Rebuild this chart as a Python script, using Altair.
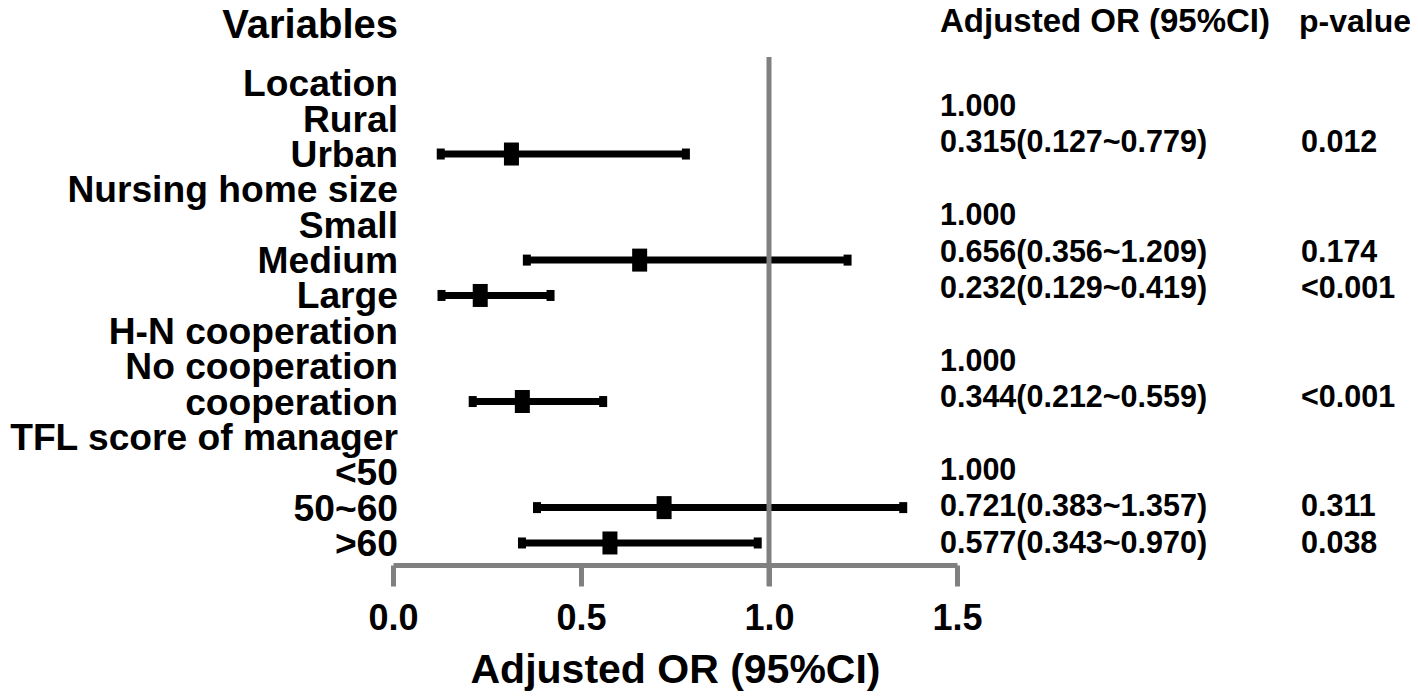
import altair as alt
import pandas as pd

# ---------------- data ----------------
row_labels = ["Location", "Rural", "Urban", "Nursing home size", "Small", "Medium",
              "Large", "H-N cooperation", "No cooperation", "cooperation",
              "TFL score of manager", "<50", "50~60", ">60"]

est_rows = [2, 5, 6, 9, 12, 13]
est_or = [0.315, 0.656, 0.232, 0.344, 0.721, 0.577]
est_lo = [0.127, 0.356, 0.129, 0.212, 0.383, 0.343]
est_hi = [0.779, 1.209, 0.419, 0.559, 1.357, 0.970]

or_rows = [1, 2, 4, 5, 6, 8, 9, 11, 12, 13]
or_texts = ["1.000", "0.315(0.127~0.779)", "1.000", "0.656(0.356~1.209)",
            "0.232(0.129~0.419)", "1.000", "0.344(0.212~0.559)", "1.000",
            "0.721(0.383~1.357)", "0.577(0.343~0.970)"]

p_rows = [2, 5, 6, 9, 12, 13]
p_texts = ["0.012", "0.174", "<0.001", "<0.001", "0.311", "0.038"]

x_ticks = [0.0, 0.5, 1.0, 1.5]
null_value = [1.0]

headers = ["Variables", "Adjusted OR (95%CI)", "p-value"]
axis_title = "Adjusted OR (95%CI)"

# ---------------- frames ----------------
labels_df = pd.DataFrame({"row": list(range(len(row_labels))), "label": row_labels})
est_df = pd.DataFrame({"row": est_rows, "or": est_or, "lo": est_lo, "hi": est_hi})
or_df = pd.DataFrame({"row": or_rows, "txt": or_texts})
p_df = pd.DataFrame({"row": p_rows, "txt": p_texts})
ref_df = pd.DataFrame({"ref": null_value})

FONT = "Liberation Sans"
GREY = "#808080"
W, H = 564, 508

xscale = alt.Scale(domain=[0, 1.5], nice=False, zero=False)
yscale = alt.Scale(domain=[-0.744, 13.623], reverse=True, nice=False, zero=False)
yscale_r = alt.Scale(domain=[-0.319, 13.637], reverse=True, nice=False, zero=False)

xaxis = alt.Axis(values=x_ticks, format=".1f", title=axis_title, grid=False,
                 domainColor=GREY, domainWidth=5, tickColor=GREY, tickWidth=5,
                 tickSize=21, labelFont=FONT, labelFontSize=36, labelFontWeight="bold",
                 labelColor="black", labelPadding=15, labelFlush=False,
                 labelOverlap=False, titleFont=FONT, titleFontSize=41,
                 titleFontWeight="bold", titleColor="black", titlePadding=14)

X = lambda f: alt.X(f, type="quantitative", scale=xscale, axis=xaxis)
Y = lambda: alt.Y("row:Q", scale=yscale, axis=None)

ci = alt.Chart(est_df).mark_rule(color="black", strokeWidth=7).encode(
    x=X("lo"), x2="hi", y=Y())
cap_lo = alt.Chart(est_df).mark_tick(color="black", orient="vertical", size=11,
                                     thickness=8, opacity=1).encode(x=X("lo"), y=Y())
cap_hi = alt.Chart(est_df).mark_tick(color="black", orient="vertical", size=11,
                                     thickness=8, opacity=1).encode(x=X("hi"), y=Y())
pt = alt.Chart(est_df).mark_tick(color="black", orient="vertical", size=23,
                                 thickness=15, opacity=1).encode(x=X("or"), y=Y())

ref = alt.Chart(ref_df).mark_rule(color=GREY, strokeWidth=5).encode(
    x=X("ref"), y=alt.value(0), y2=alt.value(H + 21))

lab = alt.Chart(labels_df).mark_text(font=FONT, fontSize=37.2, fontWeight="bold",
                                     align="right", baseline="middle", dy=2,
                                     color="black").encode(
    x=alt.value(5), y=Y(), text="label:N")

ortxt = alt.Chart(or_df).mark_text(font=FONT, fontSize=30.5, fontWeight="bold",
                                   align="left", baseline="middle", dy=2,
                                   color="black").encode(
    x=alt.value(547), y=alt.Y("row:Q", scale=yscale_r, axis=None), text="txt:N")
ptxt = alt.Chart(p_df).mark_text(font=FONT, fontSize=30.5, fontWeight="bold",
                                 align="left", baseline="middle", dy=2,
                                 color="black").encode(
    x=alt.value(908), y=alt.Y("row:Q", scale=yscale_r, axis=None), text="txt:N")

h1 = alt.Chart(pd.DataFrame({"t": [headers[0]]})).mark_text(
    font=FONT, fontSize=40, fontWeight="bold", align="right", baseline="alphabetic",
    color="black").encode(x=alt.value(5), y=alt.value(-19), text="t:N")
h2 = alt.Chart(pd.DataFrame({"t": [headers[1]]})).mark_text(
    font=FONT, fontSize=33, fontWeight="bold", align="left", baseline="alphabetic",
    color="black").encode(x=alt.value(547), y=alt.value(-25), text="t:N")
h3 = alt.Chart(pd.DataFrame({"t": [headers[2]]})).mark_text(
    font=FONT, fontSize=32, fontWeight="bold", align="left", baseline="alphabetic",
    color="black").encode(x=alt.value(906), y=alt.value(-25), text="t:N")

chart = alt.layer(ci, cap_lo, cap_hi, pt, ref, lab, ortxt, ptxt, h1, h2, h3).resolve_scale(
    y="independent"
).properties(
    width=W, height=H,
    autosize=alt.AutoSizeParams(type="none"),
    padding={"left": 385, "top": 49, "right": 453, "bottom": 127},
    background="white",
).configure_view(strokeWidth=0)

chart.save("out.html", embed_options={"renderer": "svg", "actions": False})
